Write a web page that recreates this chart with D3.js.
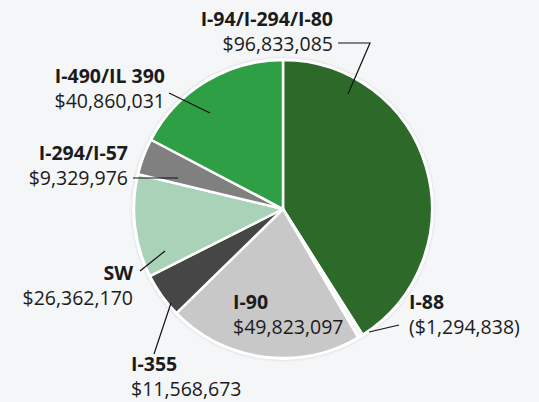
<!DOCTYPE html>
<html lang="en">
<head>
    <meta charset="UTF-8">
    <title>Toll Revenue by Corridor</title>
    <script src="https://d3js.org/d3.v7.min.js"></script>
    <style>
        body {
            margin: 0;
            background: #f5f6f8;
        }
        svg text {
            font-family: "Open Sans", sans-serif;
            font-size: 19.5px;
            fill: #1b1b1b;
        }
        .name {
            font-weight: bold;
        }
        .leader {
            stroke: #111;
            stroke-width: 1.2;
            fill: none;
        }
    </style>
</head>
<body>
    <svg id="chart"></svg>
    <script>
        // corridors, clockwise from 12 o'clock
        const corridors = ["I-94/I-294/I-80", "I-88", "I-90", "I-355", "SW", "I-294/I-57", "I-490/IL 390"];
        const amounts = [96833085, -1294838, 49823097, 11568673, 26362170, 9329976, 40860031];
        const colors = ["#2d6a29", "#f3f6f3", "#c8c8c8", "#464646", "#aad2b9", "#808080", "#2e9f45"];

        const width = 539, height = 402;
        const cx = 283, cy = 209, radius = 149;

        // label placement: anchor point, alignment, and leader line points
        const labelLayout = [
            { x: 333, y: 26, anchor: "end", line: [[338, 43], [370, 43], [348, 94]] },
            { x: 409, y: 309, anchor: "start", line: [[399, 325], [369, 332]] },
            { x: 233, y: 309, anchor: "start", line: null },
            { x: 131, y: 371, anchor: "start", line: [[154, 354], [171, 303]] },
            { x: 133, y: 280, anchor: "end", line: [[140, 271], [165, 251]] },
            { x: 128, y: 160, anchor: "end", line: [[133, 178], [178, 178]] },
            { x: 165, y: 83, anchor: "end", line: [[169, 93], [210, 113]] }
        ];

        const fmt = d3.format("$,");
        const fmtAmount = v => v < 0 ? "(" + fmt(-v) + ")" : fmt(v);

        const data = corridors.map((c, i) => ({ name: c, value: amounts[i], color: colors[i], layout: labelLayout[i] }));

        const svg = d3.select("#chart")
            .attr("width", width)
            .attr("height", height);

        const defs = svg.append("defs");
        const shadow = defs.append("filter").attr("id", "halo")
            .attr("x", "-10%").attr("y", "-10%").attr("width", "120%").attr("height", "120%");
        shadow.append("feGaussianBlur").attr("stdDeviation", 1.2);

        const pie = d3.pie()
            .sort(null)
            .value(d => Math.abs(d.value));

        const arc = d3.arc()
            .innerRadius(0)
            .outerRadius(radius);

        const g = svg.append("g")
            .attr("transform", "translate(" + cx + "," + cy + ")");

        // faint rim around the pie
        g.append("circle")
            .attr("r", radius + 2.5)
            .attr("fill", "#d8dcdf")
            .attr("filter", "url(#halo)");
        g.append("circle")
            .attr("r", radius + 2)
            .attr("fill", "#ffffff");

        g.selectAll(".slice")
            .data(pie(data))
            .enter().append("path")
            .attr("class", "slice")
            .attr("d", arc)
            .attr("fill", d => d.data.color)
            .attr("stroke", "#ffffff")
            .attr("stroke-width", 2.5)
            .attr("stroke-linejoin", "round");

        // leader lines
        svg.selectAll(".leader")
            .data(data.filter(d => d.layout.line))
            .enter().append("polyline")
            .attr("class", "leader")
            .attr("points", d => d.layout.line.map(p => p.join(",")).join(" "));

        // labels
        const labels = svg.selectAll(".label")
            .data(data)
            .enter().append("text")
            .attr("class", "label")
            .attr("text-anchor", d => d.layout.anchor);

        labels.append("tspan")
            .attr("class", "name")
            .attr("x", d => d.layout.x)
            .attr("y", d => d.layout.y)
            .text(d => d.name);

        labels.append("tspan")
            .attr("x", d => d.layout.x)
            .attr("y", d => d.layout.y + 25)
            .text(d => fmtAmount(d.value));
    </script>
</body>
</html>
